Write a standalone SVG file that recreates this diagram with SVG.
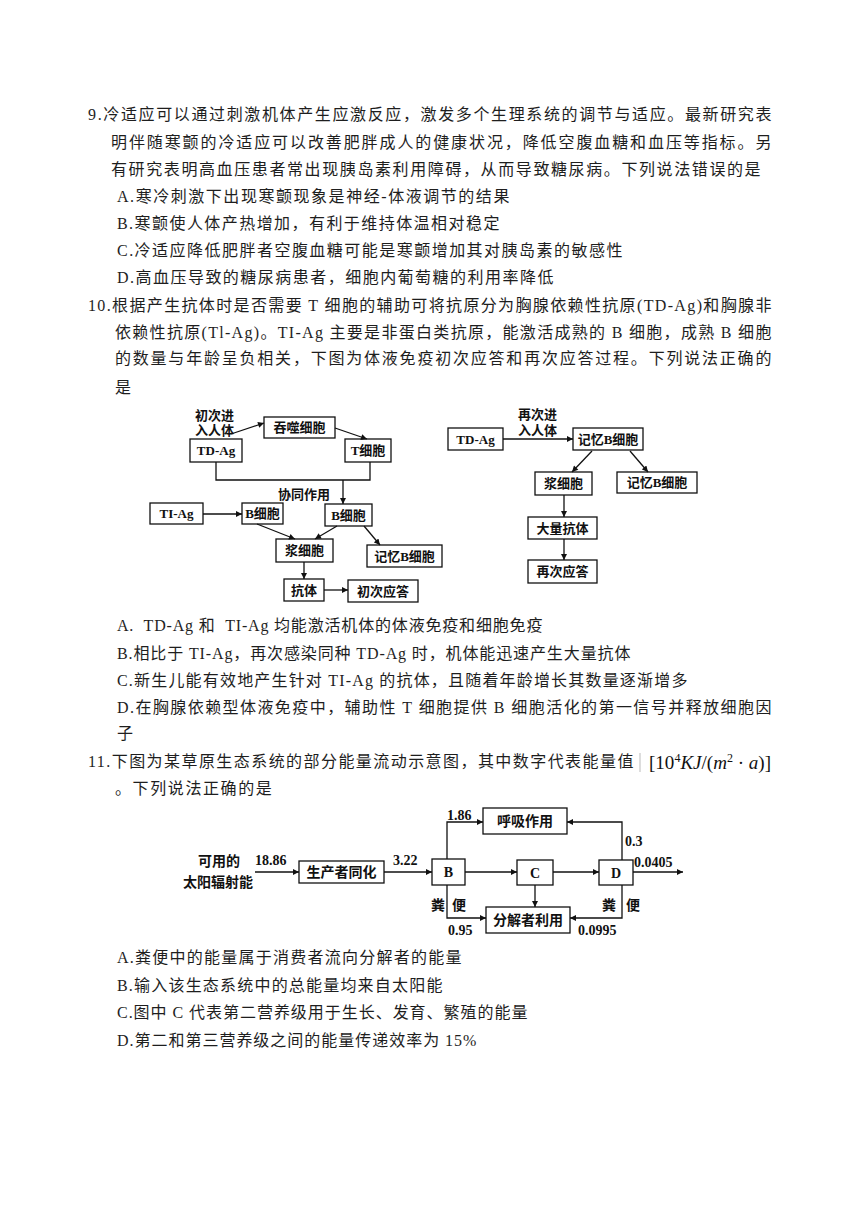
<svg xmlns="http://www.w3.org/2000/svg" width="860" height="1216" viewBox="0 0 860 1216">
<style>
.t{font-family:"Liberation Serif","Noto Sans CJK SC",serif;font-size:16px;fill:#1e1e1e;letter-spacing:1.6px}
.d{font-family:"Liberation Serif","Noto Sans CJK SC",serif;font-size:13px;font-weight:bold;fill:#111}
.e{font-family:"Liberation Serif","Noto Sans CJK SC",serif;font-size:14px;font-weight:bold;fill:#111}
.c{text-anchor:middle}
.m{font-family:"Liberation Serif",serif;font-size:19px;fill:#111}
.box{fill:#fff;stroke:#111;stroke-width:1.3}
.ln{fill:none;stroke:#111;stroke-width:1.3}
.ar{fill:none;stroke:#111;stroke-width:1.3;marker-end:url(#ah)}
</style>
<defs>
<marker id="ah" viewBox="0 0 10 10" refX="10" refY="5" markerWidth="7" markerHeight="6" markerUnits="userSpaceOnUse" orient="auto">
<path d="M0,0 L10,5 L0,10 Z" fill="#111"/>
</marker>
</defs>
<rect width="860" height="1216" fill="#fff"/>

<g id="q9">
<text class="t" x="88" y="120" textLength="685" lengthAdjust="spacing">9.冷适应可以通过刺激机体产生应激反应，激发多个生理系统的调节与适应。最新研究表</text>
<text class="t" x="111" y="148" textLength="662" lengthAdjust="spacing">明伴随寒颤的冷适应可以改善肥胖成人的健康状况，降低空腹血糖和血压等指标。另</text>
<text class="t" x="111" y="175">有研究表明高血压患者常出现胰岛素利用障碍，从而导致糖尿病。下列说法错误的是</text>
<text class="t" x="117" y="202" textLength="394" lengthAdjust="spacing">A.寒冷刺激下出现寒颤现象是神经-体液调节的结果</text>
<text class="t" x="117" y="229" textLength="384" lengthAdjust="spacing">B.寒颤使人体产热增加，有利于维持体温相对稳定</text>
<text class="t" x="117" y="256" textLength="507" lengthAdjust="spacing">C.冷适应降低肥胖者空腹血糖可能是寒颤增加其对胰岛素的敏感性</text>
<text class="t" x="117" y="283" textLength="438" lengthAdjust="spacing">D.高血压导致的糖尿病患者，细胞内葡萄糖的利用率降低</text>
</g>

<g id="q10">
<text class="t" x="88" y="311" textLength="685" lengthAdjust="spacing">10.根据产生抗体时是否需要 T 细胞的辅助可将抗原分为胸腺依赖性抗原(TD-Ag)和胸腺非</text>
<text class="t" x="115" y="338" textLength="658" lengthAdjust="spacing">依赖性抗原(Tl-Ag)。TI-Ag 主要是非蛋白类抗原，能激活成熟的 B 细胞，成熟 B 细胞</text>
<text class="t" x="115" y="364" textLength="658" lengthAdjust="spacing">的数量与年龄呈负相关，下图为体液免疫初次应答和再次应答过程。下列说法正确的</text>
<text class="t" x="115" y="393">是</text>
</g>

<g id="primary-response">
<text class="d" x="195" y="420">初次进</text>
<text class="d" x="195" y="435">入人体</text>
<text class="d" x="278" y="499">协同作用</text>
<g id="n-tdag1"><rect class="box" x="190" y="439" width="52" height="23"/><text class="d c" x="216" y="455">TD-Ag</text></g>
<g id="n-phago"><rect class="box" x="264" y="417" width="71" height="21"/><text class="d c" x="299.5" y="432">吞噬细胞</text></g>
<g id="n-tcell"><rect class="box" x="345" y="439" width="46" height="23"/><text class="d c" x="368" y="455">T细胞</text></g>
<g id="n-tiag"><rect class="box" x="150" y="503" width="53" height="21"/><text class="d c" x="176.5" y="518">TI-Ag</text></g>
<g id="n-bcell1"><rect class="box" x="242" y="503" width="41" height="21"/><text class="d c" x="262.5" y="518">B细胞</text></g>
<g id="n-bcell2"><rect class="box" x="325" y="504" width="47" height="22"/><text class="d c" x="348.5" y="519.5">B细胞</text></g>
<g id="n-plasma1"><rect class="box" x="276" y="539" width="57" height="23"/><text class="d c" x="304.5" y="555">浆细胞</text></g>
<g id="n-memb1"><rect class="box" x="367" y="545" width="75" height="22"/><text class="d c" x="404.5" y="560.5">记忆B细胞</text></g>
<g id="n-ab1"><rect class="box" x="284" y="579" width="40" height="22"/><text class="d c" x="304" y="594.5">抗体</text></g>
<g id="n-resp1"><rect class="box" x="348" y="580" width="70" height="22"/><text class="d c" x="383" y="595.5">初次应答</text></g>
</g>

<g id="secondary-response">
<text class="d" x="518" y="419">再次进</text>
<text class="d" x="518" y="435">入人体</text>
<g id="n-tdag2"><rect class="box" x="448" y="428" width="55" height="22"/><text class="d c" x="475.5" y="443.5">TD-Ag</text></g>
<g id="n-memb2"><rect class="box" x="573" y="428" width="70" height="22"/><text class="d c" x="608" y="443.5">记忆B细胞</text></g>
<g id="n-plasma2"><rect class="box" x="535" y="472" width="57" height="23"/><text class="d c" x="563.5" y="488">浆细胞</text></g>
<g id="n-memb3"><rect class="box" x="617" y="472" width="80" height="21"/><text class="d c" x="657" y="487">记忆B细胞</text></g>
<g id="n-ab2"><rect class="box" x="528" y="517" width="69" height="22"/><text class="d c" x="562.5" y="532.5">大量抗体</text></g>
<g id="n-resp2"><rect class="box" x="528" y="560" width="69" height="23"/><text class="d c" x="562.5" y="576">再次应答</text></g>
</g>

<g id="q10-options">
<text class="t" x="117" y="631" style="white-space:pre" textLength="427" lengthAdjust="spacing">A.  TD-Ag 和  TI-Ag 均能激活机体的体液免疫和细胞免疫</text>
<text class="t" x="117" y="659" textLength="515" lengthAdjust="spacing">B.相比于 TI-Ag，再次感染同种 TD-Ag 时，机体能迅速产生大量抗体</text>
<text class="t" x="117" y="686" textLength="572" lengthAdjust="spacing">C.新生儿能有效地产生针对 TI-Ag 的抗体，且随着年龄增长其数量逐渐增多</text>
<text class="t" x="117" y="713" textLength="656" lengthAdjust="spacing">D.在胸腺依赖型体液免疫中，辅助性 T 细胞提供 B 细胞活化的第一信号并释放细胞因</text>
<text class="t" x="117" y="739">子</text>
</g>

<g id="q11">
<text class="t" x="88" y="767" textLength="547" lengthAdjust="spacing">11.下图为某草原生态系统的部分能量流动示意图，其中数字代表能量值</text>
<line x1="640" y1="753" x2="640" y2="772" stroke="#bbb" stroke-width="1"/>
<text class="m" x="649" y="769" textLength="122" lengthAdjust="spacingAndGlyphs">[10<tspan font-size="12" dy="-7">4</tspan><tspan dy="7" font-style="italic">KJ</tspan>/(<tspan font-style="italic">m</tspan><tspan font-size="12" dy="-7">2</tspan><tspan dy="7"> · </tspan><tspan font-style="italic">a</tspan>)]</text>
<text class="t" x="115" y="794">。下列说法正确的是</text>
</g>

<g id="energy-flow">
<text class="e" x="198" y="866">可用的</text>
<text class="e" x="183" y="887">太阳辐射能</text>
<text class="e" x="255" y="865">18.86</text>
<text class="e" x="393" y="865">3.22</text>
<text class="e" x="447" y="820">1.86</text>
<text class="e" x="625" y="846">0.3</text>
<text class="e" x="634" y="867">0.0405</text>
<text class="e" x="448" y="935">0.95</text>
<text class="e" x="578" y="935">0.0995</text>
<text class="e" x="431" y="910">粪</text>
<text class="e" x="452" y="910">便</text>
<text class="e" x="602" y="910">粪</text>
<text class="e" x="626" y="910">便</text>
<g id="n-producer"><rect class="box" x="299" y="861" width="85" height="22"/><text class="e c" x="341.5" y="877">生产者同化</text></g>
<g id="n-B"><rect class="box" x="432" y="859" width="33" height="26"/><text class="e c" x="448.5" y="877">B</text></g>
<g id="n-C"><rect class="box" x="517" y="860" width="36" height="25"/><text class="e c" x="535" y="877.5">C</text></g>
<g id="n-D"><rect class="box" x="599" y="860" width="34" height="25"/><text class="e c" x="616" y="877.5">D</text></g>
<g id="n-resp"><rect class="box" x="483" y="808" width="84" height="26"/><text class="e c" x="525" y="826">呼吸作用</text></g>
<g id="n-decomp"><rect class="box" x="486" y="907" width="84" height="26"/><text class="e c" x="528" y="925">分解者利用</text></g>
</g>

<g id="connectors">
<line class="ar" x1="231" y1="434" x2="264" y2="423"/>
<line class="ar" x1="335" y1="428" x2="367" y2="439"/>
<polyline class="ln" points="216,462 216,480 370,480 370,462"/>
<line class="ar" x1="343" y1="480" x2="343" y2="504"/>
<line class="ar" x1="203" y1="514" x2="242" y2="514"/>
<line class="ar" x1="257" y1="524" x2="295" y2="539"/>
<line class="ar" x1="337" y1="526" x2="315" y2="539"/>
<line class="ar" x1="364" y1="526" x2="380" y2="545"/>
<line class="ar" x1="304" y1="562" x2="304" y2="579"/>
<line class="ar" x1="324" y1="590" x2="348" y2="590"/>

<line class="ar" x1="503" y1="439" x2="573" y2="439"/>
<line class="ar" x1="592" y1="451" x2="572" y2="472"/>
<line class="ar" x1="630" y1="451" x2="648" y2="472"/>
<line class="ar" x1="564" y1="495" x2="564" y2="517"/>
<line class="ar" x1="564" y1="539" x2="564" y2="560"/>

<line class="ar" x1="255" y1="872" x2="299" y2="872"/>
<line class="ar" x1="384" y1="872" x2="432" y2="872"/>
<line class="ar" x1="465" y1="872" x2="517" y2="872"/>
<line class="ar" x1="553" y1="872" x2="599" y2="872"/>
<line class="ar" x1="633" y1="872" x2="683" y2="872"/>
<polyline class="ar" points="447,859 447,822 483,822"/>
<polyline class="ar" points="622,860 622,822 567,822"/>
<line class="ar" x1="535" y1="885" x2="535" y2="907"/>
<polyline class="ar" points="447,885 447,918 486,918"/>
<polyline class="ar" points="622,885 622,918 570,918"/>
</g>

<g id="q11-options">
<text class="t" x="117" y="963" textLength="346" lengthAdjust="spacing">A.粪便中的能量属于消费者流向分解者的能量</text>
<text class="t" x="117" y="991" textLength="327" lengthAdjust="spacing">B.输入该生态系统中的总能量均来自太阳能</text>
<text class="t" x="117" y="1018" textLength="412" lengthAdjust="spacing">C.图中 C 代表第二营养级用于生长、发育、繁殖的能量</text>
<text class="t" x="117" y="1046" textLength="361" lengthAdjust="spacing">D.第二和第三营养级之间的能量传递效率为 15%</text>
</g>
</svg>
